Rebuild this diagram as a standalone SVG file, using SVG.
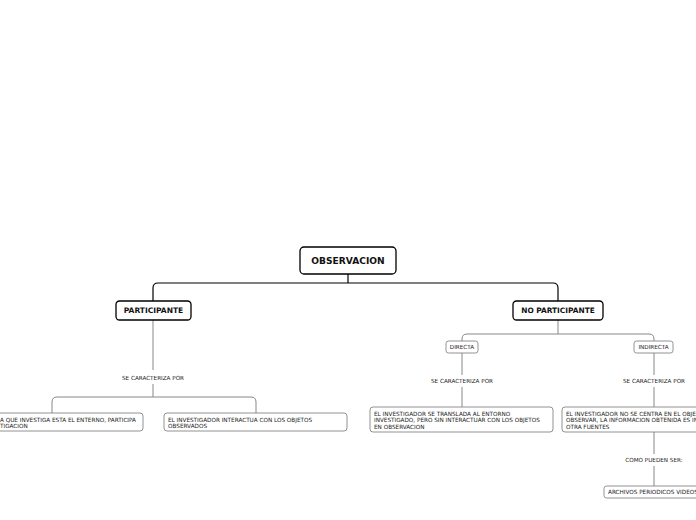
<svg xmlns="http://www.w3.org/2000/svg" width="696" height="520" viewBox="0 0 696 520">
<style>
.main{fill:#fff;stroke:#000;stroke-width:1.3}
.sub{fill:#fff;stroke:#777;stroke-width:0.8}
.tb{font-family:"DejaVu Sans",Verdana,sans-serif;font-weight:bold;fill:#111;text-anchor:middle}
.t{font-family:"DejaVu Sans",Verdana,sans-serif;font-size:5.7px;fill:#222}
.tm{font-family:"DejaVu Sans",Verdana,sans-serif;font-size:5.65px;fill:#222;text-anchor:middle}
.c1{fill:none;stroke:#000;stroke-width:1.2}
.c2{fill:none;stroke:#888;stroke-width:1}
</style>
<rect width="696" height="520" fill="#fff"/>
<g id="connectors">
<path class="c1" d="M348,274 V283 M158,283 H553 M158,283 Q153,283 153,288 V301 M553,283 Q558,283 558,288 V301"/>
<path class="c2" d="M153,320 V370 M153,384 V397 M57,397 H251 M57,397 Q52,397 52,402 V413 M251,397 Q256,397 256,402 V413"/>
<path class="c2" d="M558,320 V334 M467,334 H649 M467,334 Q462,334 462,339 V341 M649,334 Q654,334 654,339 V341"/>
<path class="c2" d="M462,353 V375 M462,387 V407"/>
<path class="c2" d="M654,353 V375 M654,387 V407 M654,432 V454 M654,466 V486"/>
</g>
<g id="n-observacion"><rect class="main" x="300" y="247" width="96" height="27" rx="4"/><text class="tb" x="348" y="264" font-size="9.1">OBSERVACION</text></g>
<g id="n-participante"><rect class="main" x="116" y="301" width="75" height="19" rx="3.5"/><text class="tb" x="153.5" y="313.2" font-size="7.5">PARTICIPANTE</text></g>
<g id="n-noparticipante"><rect class="main" x="513" y="301" width="90" height="19" rx="3.5"/><text class="tb" x="558" y="313.2" font-size="7.4">NO PARTICIPANTE</text></g>
<g id="n-se1"><text class="tm" x="153" y="380">SE CARACTERIZA POR</text></g>
<g id="n-p1"><rect class="sub" x="-39" y="413" width="182" height="18" rx="3"/><text class="t" x="0" y="421.5">A QUE INVESTIGA ESTA EL ENTERNO, PARTICIPA</text><text class="t" x="0" y="428">TIGACION</text></g>
<g id="n-p2"><rect class="sub" x="164" y="413" width="183" height="18" rx="3"/><text class="t" x="168" y="421.5">EL INVESTIGADOR INTERACTUA CON LOS OBJETOS</text><text class="t" x="168" y="428">OBSERVADOS</text></g>
<g id="n-directa"><rect class="sub" x="446" y="341" width="32" height="12" rx="2.5"/><text class="tm" x="462" y="349.2">DIRECTA</text></g>
<g id="n-indirecta"><rect class="sub" x="634" y="341" width="39" height="12" rx="2.5"/><text class="tm" x="653.5" y="349.2">INDIRECTA</text></g>
<g id="n-se2"><text class="tm" x="462" y="383">SE CARACTERIZA POR</text></g>
<g id="n-se3"><text class="tm" x="654" y="383">SE CARACTERIZA POR</text></g>
<g id="n-d1"><rect class="sub" x="370" y="407" width="183" height="25" rx="3"/><text class="t" x="374" y="415.5">EL INVESTIGADOR SE TRANSLADA AL ENTORNO</text><text class="t" x="374" y="422">INVESTIGADO, PERO SIN INTERACTUAR CON LOS OBJETOS</text><text class="t" x="374" y="428.5">EN OBSERVACION</text></g>
<g id="n-i1"><rect class="sub" x="562" y="407" width="184" height="25" rx="3"/><text class="t" x="566" y="415.5">EL INVESTIGADOR NO SE CENTRA EN EL OBJE</text><text class="t" x="566" y="422">OBSERVAR, LA INFORMACION OBTENIDA ES IN</text><text class="t" x="566" y="428.5">OTRA FUENTES</text></g>
<g id="n-como"><text class="tm" x="654" y="462">COMO PUEDEN SER:</text></g>
<g id="n-archivos"><rect class="sub" x="604" y="486" width="100" height="12" rx="2.5"/><text class="t" x="608" y="494.2">ARCHIVOS PERIODICOS VIDEOS</text></g>
</svg>
